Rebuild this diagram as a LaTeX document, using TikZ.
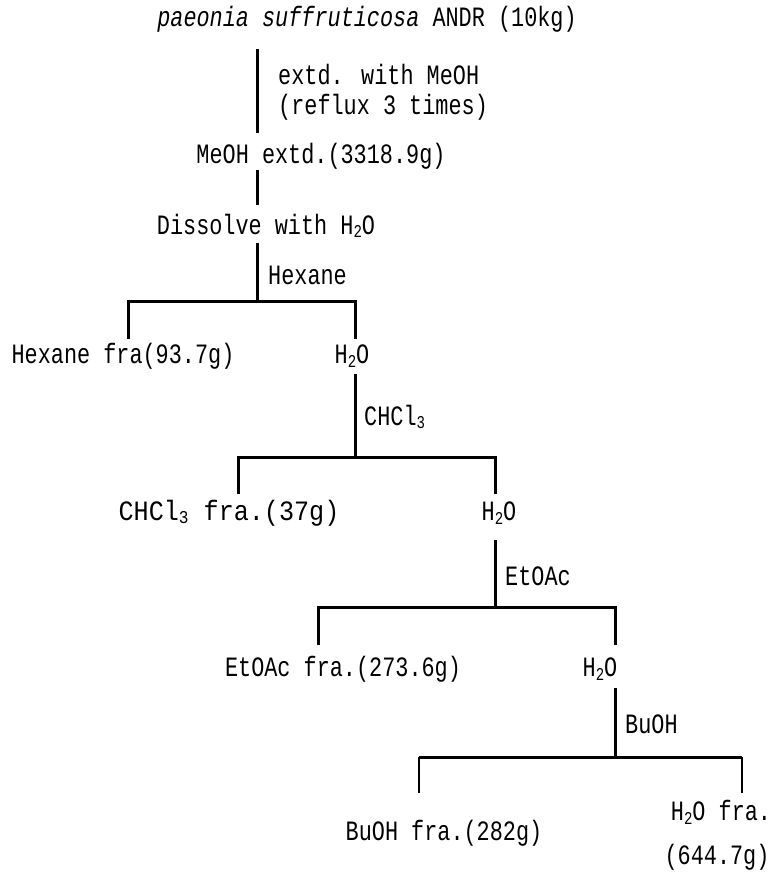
\documentclass[tikz,border=0pt]{standalone}
\usepackage{fontspec}
\newfontfamily\tf[FakeStretch=0.78]{Liberation Mono}
\newcommand{\lowsub}[1]{\raisebox{-0.25ex}{\fontsize{18}{18}\selectfont #1}}
\begin{document}
\begin{tikzpicture}[x=1pt,y=-1pt,
  txt/.style={font=\tf\fontsize{28}{30}\selectfont, inner sep=0pt, anchor=center},
  lbl/.style={txt, anchor=west},
  thickline/.style={line width=3pt},
  thinline/.style={line width=1.2pt}]
\useasboundingbox (0,0) rectangle (778,872);
% texts
\node[txt] (title) at (367,19) {\textit{paeonia suffruticosa} ANDR (10kg)};
\node[lbl, align=left] (ext) at (278,92) {extd. with MeOH\\(reflux 3 times)};
\node[txt] (meoh) at (321,156) {MeOH extd.(3318.9g)};
\node[txt] (diss) at (266,226) {Dissolve with H\lowsub{2}O};
\node[lbl] (hexl) at (268,275) {Hexane};
\node[txt] (hexf) at (123,356) {Hexane fra(93.7g)};
\node[txt] (w1) at (352,356) {H\lowsub{2}O};
\node[lbl] (chl) at (364,417) {CHCl\lowsub{3}};
\node[txt] (chf) at (229,513) {\scalebox{1.15}[1]{CHCl\lowsub{3} fra.(37g)}};
\node[txt] (w2) at (499,513) {H\lowsub{2}O};
\node[lbl] (etl) at (505,576) {EtOAc};
\node[txt] (etf) at (343,669) {EtOAc fra.(273.6g)};
\node[txt] (w3) at (600,669) {H\lowsub{2}O};
\node[lbl] (bul) at (625,724) {BuOH};
\node[txt] (buf) at (444,833) {BuOH fra.(282g)};
\node[txt] (wf) at (721,812) {H\lowsub{2}O fra.};
\node[txt] (wfm) at (717,857) {(644.7g)};
% coordinates
\coordinate (a1) at (257,49); \coordinate (a2) at (257,133);
\coordinate (b1) at (257,170); \coordinate (b2) at (257,205);
\coordinate (c1) at (257,243); \coordinate (c2) at (257,301);
\coordinate (cl) at (128,301); \coordinate (cr) at (355,301);
\coordinate (cld) at (128,339); \coordinate (crd) at (355,339);
\coordinate (d1) at (355,374); \coordinate (d2) at (355,457);
\coordinate (dl) at (238,457); \coordinate (dr) at (495,457);
\coordinate (dld) at (238,494); \coordinate (drd) at (495,494);
\coordinate (e1) at (495,540); \coordinate (e2) at (495,607);
\coordinate (el) at (318,607); \coordinate (er) at (615,607);
\coordinate (eld) at (318,645); \coordinate (erd) at (615,645);
\coordinate (f1) at (615,688); \coordinate (f2) at (615,757);
\coordinate (fl) at (419,757); \coordinate (fr) at (742,757);
\coordinate (fld) at (419,793); \coordinate (frd) at (742,793);
% lines
\draw[thickline] (a1) -- (a2);
\draw[thickline] (b1) -- (b2);
\draw[thickline] (c1) -- (c2);
\draw[thickline] (cld) -- (cl) -- (cr) -- (crd);
\draw[thickline] (d1) -- (d2);
\draw[thickline] (dld) -- (dl) -- (dr) -- (drd);
\draw[thickline] (e1) -- (e2);
\draw[thickline] (eld) -- (el) -- (er) -- (erd);
\draw[thickline] (f1) -- (f2);
\draw[thickline] (fl) -- (fr);
\draw[thinline] (fld) -- (fl);
\draw[thinline] (frd) -- (fr);
\end{tikzpicture}
\end{document}
